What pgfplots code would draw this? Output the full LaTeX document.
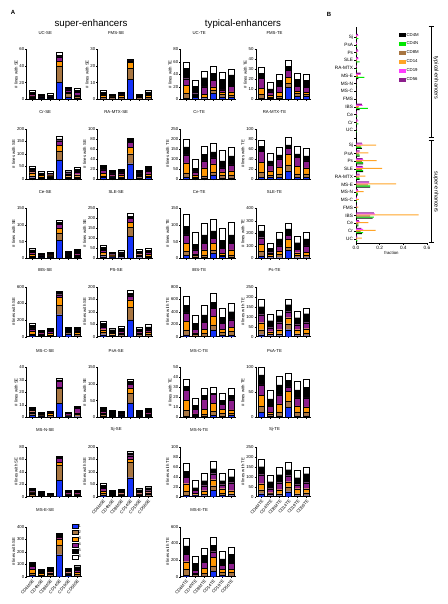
\documentclass[border=0pt]{standalone}
\usepackage{pgfplots}
\pgfplotsset{compat=1.18}
\usepackage{pgfplotstable}
\usepackage{fontspec}
\setmainfont{Liberation Sans}
\definecolor{c1}{RGB}{20,50,250}
\definecolor{c2}{RGB}{168,118,66}
\definecolor{c3}{RGB}{255,150,0}
\definecolor{c4}{RGB}{140,30,140}
\definecolor{cg}{RGB}{0,230,0}
\definecolor{cm}{RGB}{255,60,255}
\definecolor{co}{RGB}{255,165,40}
\newcommand\fA{\fontsize{4.3}{5}\selectfont}
\newcommand\fB{\fontsize{4.7}{5.5}\selectfont}

% ---------- panel A data: x, stacks 1..6 ----------
\pgfplotstableread{
x a b c d e f
0 1 2 1 2 2 2.5
1 0.5 1 0.5 1 1.5 1.5
2 0.5 1 0.5 1 2 2
3 20 20 5.5 5.5 1.5 4.5
4 3 4 1.5 2.8 2.5 1.2
5 1 3 1 3 3 2
}\tUCSE
\pgfplotstableread{
x a b c d e f
0 0.3 1 1.2 0.5 1.2 1
1 0.2 0.8 0.5 0.3 0.8 0.4
2 0.3 1 1 0.4 1 0.5
3 12 6.5 3.5 1 0.6 0.4
4 0.2 0.8 0.6 0.3 0.8 0.3
5 0.3 1 1.2 0.5 1.4 0.8
}\tFMSSE
\pgfplotstableread{
x a b c d e f
0 2 7.5 12.5 11 17 10
1 3 1.5 1.5 3 12 10
2 1 2 5 12 14.5 10
3 10 5 5 10 12 11
4 4 4 3 4 17 11.5
5 3 3 6 9 18 10
}\tUCTE
\pgfplotstableread{
x a b c d e f
0 1 4 6 10 5 6
1 1 1.5 2 3 3 6.5
2 1 2 4 6 6 6
3 12 4 6 7 4 6
4 3 3 2 5 7 6
5 3 2 2 5 7 6
}\tFMSTE
\pgfplotstableread{
x a b c d e f
0 5 8 12 7 10 10
1 3 5 6 5 5 9
2 3 5 5 4 5 10
3 76 36 22 19 7 10
4 3 6 6 6 8 6
5 3 6 8 10 12 8
}\tCrSE
\pgfplotstableread{
x a b c d e f
0 3 3 5 7 8 2.5
1 2 2 2 4 6 1.5
2 2 2 4 4 6 1.5
3 30.5 20 12.5 10 7.5 2
4 2 3 2 3 6 1.5
5 3 3 4 5 9 1.5
}\tRASE
\pgfplotstableread{
x a b c d e f
0 10 20 50 40 40 39
1 3 7 10 15 18 47
2 5 10 40 35 32 42
3 20 15 40 30 30 44
4 5 15 15 20 35 56
5 5 15 20 30 45 45
}\tCrTE
\pgfplotstableread{
x a b c d e f
0 3 10 20 22 10 12
1 3 5 8 12 8 15
2 3 7 14 16 8 16
3 15 13 21 12 7 15.5
4 3 7 15 18 7 15
5 3 7 12 14 10 15
}\tRATE
\pgfplotstableread{
x a b c d e f
0 2 5 6 5 7 4
1 1 2 2 2 6 2
2 1 3 3 3 6 3
3 54 22.5 13.5 12 6 5
4 2 3 3 3 6 3
5 2 4 4 5 8 4
}\tCeSE
\pgfplotstableread{
x a b c d e f
0 8 10 12 10 15 10
1 3 5 5 5 8 7
2 3 6 7 6 10 9
3 111 44 25 19 12 13
4 3 7 8 8 10 10
5 4 8 8 9 12 10
}\tSLESE
\pgfplotstableread{
x a b c d e f
0 8 12 25 25 25 37
1 3 5 5 12 17 36
2 3 7 15 20 25 36
3 15 10 20 15 22 36
4 5 5 5 15 23 38
5 3 7 15 20 25 38
}\tCeTE
\pgfplotstableread{
x a b c d e f
0 20 35 55 55 55 49
1 5 10 15 15 35 45
2 5 25 30 40 55 51
3 65 25 60 35 50 47
4 5 20 20 25 55 50
5 5 20 25 50 55 51
}\tSLETE
\pgfplotstableread{
x a b c d e f
0 15 20 30 30 45 20
1 8 12 15 15 20 10
2 8 15 20 20 28 13
3 264 116 92 32 28 16
4 35 15 15 15 20 12
5 10 15 25 20 35 15
}\tIBSSE
\pgfplotstableread{
x a b c d e f
0 8 10 10 10 15 11
1 3 5 5 5 10 8
2 3 6 6 6 12 10
3 67 50 30 16 10 14
4 3 6 6 6 10 8
5 3 8 8 8 12 10
}\tPSSE
\pgfplotstableread{
x a b c d e f
0 30 80 140 130 120 145
1 10 30 20 60 90 137
2 10 40 70 110 120 151
3 110 80 140 120 100 143
4 20 50 50 90 100 143
5 20 70 60 120 130 133
}\tIBSTE
\pgfplotstableread{
x a b c d e f
0 10 25 35 40 40 37
1 5 8 12 20 35 32
2 5 10 20 35 35 28
3 35 30 30 30 35 30
4 5 10 20 25 35 33
5 5 12 23 30 45 28
}\tPsTE
\pgfplotstableread{
x a b c d e f
0 2 1 1.5 1 2.5 0.5
1 0.3 1 0.5 0.5 1.5 0.4
2 0.3 1.2 1.5 0.5 1.2 0.5
3 11 12 1 5 1 1.3
4 0.3 1 0.2 1.5 0.8 0.4
5 0.5 2 1 3.5 1.7 0.5
}\tMSCSE
\pgfplotstableread{
x a b c d e f
0 3 5 5 5 9 4.5
1 2 3 3 3 6 3
2 1 2 2 2 7 3
3 43.5 27.5 17 11 9.5 5
4 2 3 3 3 7 3
5 2 4 4 4 9 3.5
}\tPsASE
\pgfplotstableread{
x a b c d e f
0 1 6 10 10 4 7
1 1 1 1.5 4.5 4 7
2 1 2 5 10 4 7
3 2 4 8 9 1 6
4 1 3 4 5 4 7.5
5 2 2 3.5 10 4.5 7
}\tMSCTE
\pgfplotstableread{
x a b c d e f
0 10 12 22 21 20 15
1 3 4 3 12 15 17
2 3 8 16 18 20 18
3 20 12 20 9 13 14
4 3 8 12 16 16 18
5 3 8 10 18 21 17
}\tPsATE
\pgfplotstableread{
x a b c d e f
0 1 3 2 2 5 1
1 0.5 2 1.5 1.5 3 1
2 0.3 1 0.5 0.5 3 1
3 26 24 5 6.5 2.5 1
4 1 2 1.5 2 3.5 1
5 1 2 1.5 2.5 3 1
}\tMSNSE
\pgfplotstableread{
x a b c d e f
0 5 8 10 10 12 8
1 2 4 4 4 8 4
2 2 5 5 5 10 5
3 76 62 13 13 11 9
4 2 5 5 6 10 5
5 3 6 7 8 12 7
}\tSjSE
\pgfplotstableread{
x a b c d e f
0 3 8 15 13 12 16
1 2 2 3 6 5 16
2 2 3 7 10 10 16
3 13 9 12 12 10 15
4 3 4 9 8 8 16
5 2 4 6 16 12 16
}\tMSNTE
\pgfplotstableread{
x a b c d e f
0 15 20 30 45 40 38
1 5 10 5 20 35 35
2 5 10 20 35 40 38
3 25 25 25 30 30 38
4 5 10 25 20 35 40
5 5 15 20 30 45 35
}\tSjTE
\pgfplotstableread{
x a b c d e f
0 10 20 30 25 25 8
1 5 10 10 10 18 7
2 5 12 15 12 22 8
3 176 79 48 13 21 10
4 10 12 10 10 20 6
5 5 12 20 15 28 9
}\tMSESE
\pgfplotstableread{
x a b c d e f
0 20 70 90 90 100 90
1 10 20 10 40 80 88
2 10 30 60 70 90 88
3 70 60 100 70 80 92
4 15 40 35 50 75 93
5 10 40 40 70 105 87
}\tMSETE

% ---------- panel B data ----------
% index: 0-12 super-enhancers (UC..Sj), 14-26 typical-enhancers (UC..Sj)
\pgfplotstableread{
y m n e o p q
0 0.010 0.012 0.008 0.050 0.012 0.010
1 0.050 0.060 0.040 0.165 0.060 0.045
2 0.020 0.020 0.020 0.105 0.030 0.025
3 0.140 0.150 0.120 0.530 0.160 0.150
4 0.005 0.005 0.004 0.020 0.006 0.005
5 0.008 0.008 0.006 0.025 0.008 0.007
6 0.015 0.015 0.012 0.065 0.020 0.015
7 0.120 0.120 0.100 0.340 0.110 0.110
8 0.030 0.030 0.025 0.080 0.030 0.030
9 0.060 0.060 0.050 0.220 0.060 0.055
10 0.060 0.060 0.050 0.175 0.060 0.055
11 0.030 0.030 0.025 0.105 0.030 0.030
12 0.050 0.045 0.040 0.170 0.055 0.050
14 0.002 0.006 0.002 0.002 0.004 0.003
15 0.008 0.020 0.005 0.006 0.020 0.012
16 0.005 0.012 0.003 0.004 0.010 0.008
17 0.030 0.100 0.020 0.025 0.055 0.050
18 0.001 0.002 0.001 0.001 0.002 0.002
19 0.001 0.002 0.001 0.001 0.002 0.001
20 0.002 0.004 0.001 0.002 0.003 0.003
21 0.020 0.070 0.015 0.015 0.040 0.040
22 0.003 0.008 0.002 0.002 0.006 0.005
23 0.010 0.030 0.008 0.008 0.020 0.018
24 0.008 0.012 0.005 0.006 0.020 0.015
25 0.004 0.010 0.003 0.003 0.010 0.008
26 0.008 0.020 0.005 0.005 0.020 0.015
}\tB

\pgfplotsset{
  mini/.style={
    width=55pt, height=50pt, scale only axis,
    ybar stacked, bar width=5.8pt,
    xmin=-0.6, xmax=5.5, ymin=0,
    axis lines*=left, tick align=outside,
    major tick length=1.5pt,
    every tick/.style={black, line width=0.4pt},
    axis line style={line width=0.45pt},
    xtick={0,...,5}, xticklabels={,,,,,},
    tick label style={font=\fA, inner sep=0.8pt},
    label style={font=\fA, inner sep=0.8pt},
    title style={font=\fA, yshift=5.5pt, xshift=-9pt},
    /pgf/number format/assume math mode=true,
    /pgf/number format/1000 sep={},
    every axis plot/.append style={draw=black, line width=0.3pt},
    legend image code/.code={\draw[#1,line width=0.3pt] (0pt,-1.8pt) rectangle (6pt,2.2pt);},
  },
  selab/.style={xticklabels={CD4MSE,CD4NSE,CD8MSE,CD14SE,CD19SE,CD56SE},
    xticklabel style={rotate=50, anchor=north east, font=\fA, inner sep=0.6pt}},
  telab/.style={xticklabels={CD4MTE,CD4NTE,CD8MTE,CD14TE,CD19TE,CD56TE},
    xticklabel style={rotate=50, anchor=north east, font=\fA, inner sep=0.6pt}},
}
\newcommand\stk[1]{%
  \addplot[fill=c1] table[x=x,y=a]{#1};
  \addplot[fill=c2] table[x=x,y=b]{#1};
  \addplot[fill=c3] table[x=x,y=c]{#1};
  \addplot[fill=c4] table[x=x,y=d]{#1};
  \addplot[fill=black] table[x=x,y=e]{#1};
  \addplot[fill=white] table[x=x,y=f]{#1};}
\newcommand\mini[8][]{%
  \begin{axis}[mini, at={(#2pt,-#3pt)}, anchor=south west, title={#4},
    ymax=#5, ytick={0,#6,...,#5}, ylabel={#7}, #1]
  \stk{#8}
  \end{axis}}

\begin{document}
\begin{tikzpicture}
\fill[white] (0,0) rectangle (447pt,-604pt);
\path[use as bounding box] (0,0) rectangle (447pt,-604pt);

\node[font=\bfseries\fontsize{6}{7}\selectfont] at (13pt,-12.5pt) {A};
\node[font=\bfseries\fontsize{6}{7}\selectfont] at (329pt,-14pt) {B};
\node[font=\fontsize{9.7}{11}\selectfont] at (91pt,-24pt) {super-enhancers};
\node[font=\fontsize{9.7}{11}\selectfont] at (243pt,-24pt) {typical-enhancers};

% row 1
\mini{26.7}{99.3}{UC-SE}{60}{20}{\# lines with SE}{\tUCSE}
\mini{97.7}{99.3}{FMS-SE}{30}{10}{\# lines with SE}{\tFMSSE}
\mini{180.7}{99.3}{UC-TE}{80}{20}{\# lines with TE}{\tUCTE}
\mini{256}{99.3}{FMS-TE}{50}{10}{\# lines with TE}{\tFMSTE}
% row 2
\mini{26.7}{179}{Cr-SE}{200}{50}{\# lines with SE}{\tCrSE}
\mini{97.7}{179}{RA-MTX-SE}{100}{20}{\# lines with SE}{\tRASE}
\mini{180.7}{179}{Cr-TE}{250}{50}{\# lines with TE}{\tCrTE}
\mini{256}{179}{RA-MTX-TE}{100}{20}{\# lines with TE}{\tRATE}
% row 3
\mini{26.7}{258.3}{Ce-SE}{150}{50}{\# lines with SE}{\tCeSE}
\mini{97.7}{258.3}{SLE-SE}{250}{50}{\# lines with SE}{\tSLESE}
\mini{180.7}{258.3}{Ce-TE}{150}{50}{\# lines with TE}{\tCeTE}
\mini{256}{258.3}{SLE-TE}{400}{100}{\# lines with TE}{\tSLETE}
% row 4
\mini{26.7}{336.7}{IBS-SE}{600}{200}{\# lines with SE}{\tIBSSE}
\mini{97.7}{336.7}{PS-SE}{200}{50}{\# lines with SE}{\tPSSE}
\mini{180.7}{336.7}{IBS-TE}{800}{200}{\# lines with TE}{\tIBSTE}
\mini{256}{336.7}{Ps-TE}{250}{50}{\# lines with TE}{\tPsTE}
% row 5
\mini{26.7}{417.3}{MS-C-SE}{40}{10}{\# lines with SE}{\tMSCSE}
\mini{97.7}{417.3}{PsA-SE}{150}{50}{\# lines with SE}{\tPsASE}
\mini{180.7}{417.3}{MS-C-TE}{50}{10}{\# lines with TE}{\tMSCTE}
\mini{256}{417.3}{PsA-TE}{100}{50}{\# lines with TE}{\tPsATE}
% row 6
\mini{26.7}{496.7}{MS-N-SE}{80}{20}{\# lines with SE}{\tMSNSE}
\mini[selab]{97.7}{496.7}{Sj-SE}{200}{50}{\# lines with SE}{\tSjSE}
\mini{180.7}{496.7}{MS-N-TE}{100}{20}{\# lines with TE}{\tMSNTE}
\mini[telab]{256}{496.7}{Sj-TE}{250}{50}{\# lines with TE}{\tSjTE}
% row 7
\mini[selab, legend entries={1,2,3,4,5,6},
  legend style={at={(0.76,1.1)}, anchor=north west, draw=none, fill=none,
    font=\fontsize{4}{4.5}\selectfont, nodes={inner sep=0.7pt}, row sep=0.4pt}]
  {26.7}{576.7}{MS-E-SE}{400}{100}{\# lines with SE}{\tMSESE}
\mini[telab]{180.7}{576.7}{MS-E-TE}{600}{200}{\# lines with TE}{\tMSETE}

% panel B
\begin{axis}[at={(356pt,-243pt)}, anchor=south west,
  width=71pt, height=216pt, scale only axis,
  xbar=0pt, bar width=1.05pt,
  xmin=0, xmax=0.6, ymin=-0.55, ymax=27.3,
  axis lines*=left, tick align=outside, major tick length=2pt,
  every tick/.style={black, line width=0.45pt},
  axis line style={line width=0.5pt},
  xtick={0,0.2,0.4,0.6},
  xticklabel style={/pgf/number format/.cd, fixed, fixed zerofill, precision=1},
  ytick={0,...,26},
  yticklabels={UC,Cr,Ce,IBS,FMS,MS-C,MS-N,MS-E,RA-MTX,SLE,Ps,PsA,Sj,,UC,Cr,Ce,IBS,FMS,MS-C,MS-N,MS-E,RA-MTX,SLE,Ps,PsA,Sj},
  tick label style={font=\fB, inner sep=0.8pt},
  /pgf/number format/assume math mode=true,
  xlabel={fraction}, xlabel style={font=\fontsize{4.3}{5}\selectfont, inner sep=1pt},
  legend style={at={(0.94,0.986)}, anchor=north east, draw=none, fill=none,
    font=\fontsize{4.3}{5}\selectfont, nodes={inner sep=0.8pt}, row sep=2.8pt,
    /tikz/every even column/.append style={column sep=0pt}},
  legend image code/.code={\fill[#1] (0pt,-2.1pt) rectangle (7pt,2.1pt);},
  legend cell align=left,
]
\addplot[fill=black, draw=none] table[x=m,y=y]{\tB};
\addplot[fill=cg, draw=none] table[x=n,y=y]{\tB};
\addplot[fill=c2, draw=none] table[x=e,y=y]{\tB};
\addplot[fill=co, draw=none] table[x=o,y=y]{\tB};
\addplot[fill=cm, draw=none] table[x=p,y=y]{\tB};
\addplot[fill=c4, draw=none] table[x=q,y=y]{\tB};
\legend{CD4M,CD4N,CD8M,CD14,CD19,CD56}
\end{axis}

% brackets panel B
\draw[line width=0.5pt] (431pt,-26pt) -- (431pt,-137pt);
\draw[line width=0.5pt] (428.5pt,-26pt) -- (433.5pt,-26pt);
\draw[line width=0.5pt] (428.5pt,-137pt) -- (433.5pt,-137pt);
\draw[line width=0.5pt] (431pt,-140pt) -- (431pt,-242pt);
\draw[line width=0.5pt] (428.5pt,-140pt) -- (433.5pt,-140pt);
\draw[line width=0.5pt] (428.5pt,-242pt) -- (433.5pt,-242pt);
\node[rotate=-90, font=\fontsize{5.5}{6}\selectfont] at (436pt,-78pt) {typical-enhancers};
\node[rotate=-90, font=\fontsize{5.5}{6}\selectfont] at (436pt,-192pt) {super-enhancers};
\end{tikzpicture}
\end{document}
